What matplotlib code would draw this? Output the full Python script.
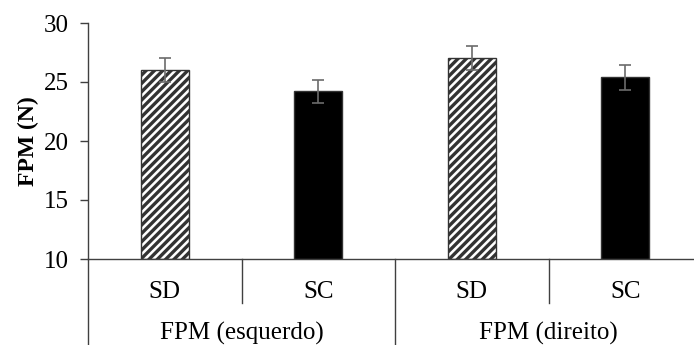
import matplotlib.pyplot as plt
import matplotlib.transforms as mtransforms

plt.rcParams['font.family'] = ['Liberation Serif', 'DejaVu Serif']
plt.rcParams['hatch.linewidth'] = 2.4

# data
labels = ['SD', 'SC', 'SD', 'SC']
groups = ['FPM (esquerdo)', 'FPM (direito)']
values = [26.0, 24.2, 27.05, 25.4]
errors = [1.0, 1.0, 1.0, 1.05]
hatches = ['////', '', '////', '']
faces = ['white', 'black', 'white', 'black']

W, H = 694, 345
fig = plt.figure(figsize=(W / 100, H / 100), dpi=100)
# axes from x=88 to ~702 px, y=23 to 259 px
ax = fig.add_axes([88 / W, (H - 259) / H, (702 - 88) / W, (259 - 23) / H])

x = range(len(values))
for i in x:
    ax.bar(i, values[i] - 10, bottom=10, width=0.31, color=faces[i],
           edgecolor='#333333', linewidth=1, hatch=hatches[i], zorder=2)
ax.errorbar(list(x), values, yerr=errors, fmt='none', ecolor='#6b6b6b',
            elinewidth=1.2, capsize=4, capthick=1.2, zorder=3)

ax.set_xlim(-0.5, 3.5)
ax.set_ylim(10, 30)
ax.set_yticks([10, 15, 20, 25, 30])
ax.tick_params(axis='y', direction='out', length=6, width=1, color='#404040',
               labelsize=18, pad=8)

ax.set_xticks(list(x))
ax.set_xticklabels(labels)
ax.tick_params(axis='x', length=0, labelsize=18, pad=16)

for s in ['top', 'right']:
    ax.spines[s].set_visible(False)
for s in ['left', 'bottom']:
    ax.spines[s].set_color('#404040')
    ax.spines[s].set_linewidth(1)

# category dividers below the axis
ext = (H - 259) / (259 - 23)
for xd in [-0.5, 1.5]:
    ax.axvline(xd, ymin=-ext - 0.01, ymax=0, color='#404040', lw=1, clip_on=False)
for xd in [0.5, 2.5]:
    ax.axvline(xd, ymin=-44 / 236, ymax=0, color='#404040', lw=1, clip_on=False)

trans = mtransforms.blended_transform_factory(ax.transData, ax.transAxes)
for gx, g in zip([0.5, 2.5], groups):
    ax.text(gx, -(333 - 259) / 236, g, transform=trans, ha='center',
            va='center', fontsize=18)

ax.set_ylabel('FPM (N)', fontsize=17, fontweight='bold')
ax.yaxis.set_label_coords((39 - 88) / 614, 0.5)

fig.savefig('out.png', dpi=100)
